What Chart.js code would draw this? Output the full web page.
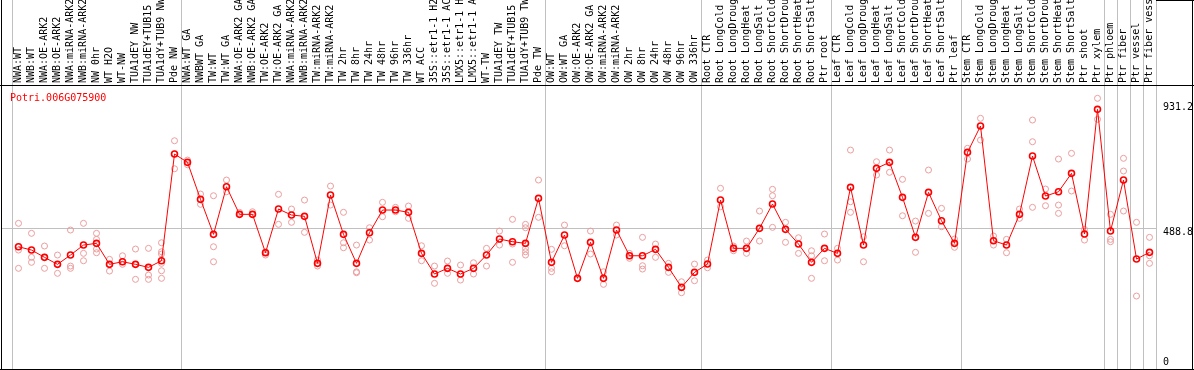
<!DOCTYPE html>
<html>
<head>
<meta charset="utf-8">
<script src="https://cdn.jsdelivr.net/npm/chart.js@4.4.1/dist/chart.umd.min.js"></script>
<style>
  html, body { margin: 0; padding: 0; background: #fff; }
  #wrap { width: 1194px; height: 370px; }
</style>
</head>
<body>
<div id="wrap"><canvas id="chart" width="1194" height="370"></canvas></div>
<script>
const geneId = "Potri.006G075900"

const sampleLabels = [
    "NWA:WT", "NWB:WT", "NWA:OE-ARK2", "NWB:OE-ARK2", "NWA:miRNA-ARK2", "NWB:miRNA-ARK2",
    "NW 0hr", "WT H2O", "WT-NW", "TUA1dEY NW", "TUA1dEY+TUB15", "TUA1dY+TUB9 NW", "Pde NW",
    "NWA:WT GA", "NWBWT GA", "TW:WT", "TW:WT GA", "NWA:OE-ARK2 GA", "NWB:OE-ARK2 GA",
    "TW:OE-ARK2", "TW:OE-ARK2 GA", "NWA:miRNA-ARK2", "NWB:miRNA-ARK2", "TW:miRNA-ARK2",
    "TW:miRNA-ARK2", "TW 2hr", "TW 8hr", "TW 24hr", "TW 48hr", "TW 96hr", "TW 336hr",
    "WT ACC", "35S::etr1-1 H2O", "35S::etr1-1 ACC", "LMX5::etr1-1 H2O", "LMX5::etr1-1 ACC",
    "WT-TW", "TUA1dEY TW", "TUA1dEY+TUB15", "TUA1dY+TUB9 TW", "Pde TW",
    "OW:WT", "OW:WT GA", "OW:OE-ARK2", "OW:OE-ARK2 GA", "OW:miRNA-ARK2", "OW:miRNA-ARK2",
    "OW 2hr", "OW 8hr", "OW 24hr", "OW 48hr", "OW 96hr", "OW 336hr",
    "Root CTR", "Root LongCold", "Root LongDrought", "Root LongHeat", "Root LongSalt",
    "Root ShortCold", "Root ShortDrought", "Root ShortHeat", "Root ShortSalt", "Ptr root",
    "Leaf CTR", "Leaf LongCold", "Leaf LongDrought", "Leaf LongHeat", "Leaf LongSalt",
    "Leaf ShortCold", "Leaf ShortDrought", "Leaf ShortHeat", "Leaf ShortSalt", "Ptr leaf",
    "Stem CTR", "Stem LongCold", "Stem LongDrought", "Stem LongHeat", "Stem LongSalt",
    "Stem ShortCold", "Stem ShortDrought", "Stem ShortHeat", "Stem ShortSalt", "Ptr shoot",
    "Ptr xylem", "Ptr phloem", "Ptr fiber", "Ptr vessel", "Ptr fiber vessel",
]

// first sample of each group (a grey separator is drawn before it)
const groupStarts = [0, 13, 41, 53, 63, 73, 84, 85, 86, 87]

const meanValues = [
    422.6, 410.9, 385.1, 360.3, 393.2, 428.6, 434.7, 360.3, 369.5, 360.3, 349.6, 373.0, 751.0,
    721.6, 590.5, 466.5, 635.2, 537.4, 537.4, 401.4, 556.2, 534.9, 530.3, 363.8, 605.8, 466.5,
    363.8, 472.2, 552.6, 552.6, 544.5, 399.2, 325.9, 346.1, 325.9, 346.1, 393.2, 449.9, 440.3,
    434.7, 594.1,
    367.4, 464.1, 310.7, 438.2, 310.7, 481.8, 390.7, 390.7, 413.4, 349.6, 278.8, 331.9,
    361.3, 588.0, 416.9, 416.9, 487.8, 573.9, 484.2, 432.2, 367.4, 416.9,
    399.2, 633.0, 428.6, 700.3, 721.6, 597.6, 455.9, 615.3, 514.7, 434.7,
    757.0, 850.2, 443.9, 428.6, 537.4, 743.9, 602.2, 617.4, 682.6, 467.6, 909.3,
    478.2, 658.9, 379.0, 402.8,
]

const replicateValues = [
    [505.5, 410.9, 346.1], [470.1, 385.1, 367.4], [425.1, 346.1, 385.1], [393.2, 328.4, 360.3],
    [481.8, 354.2, 346.1], [505.5, 399.2, 373.0], [470.1, 448.8, 414.5, 401.4],
    [378.0, 336.5, 360.3], [390.7, 360.3, 369.5], [414.5, 307.1, 360.3], [416.9, 322.4, 307.1],
    [436.8, 404.9, 396.8, 363.8, 337.6, 310.7], [798.1, 698.9, 751.0],
    [729.7, 713.0], [609.3, 572.8], [603.3, 422.6, 369.5], [658.9, 617.4], [544.5, 537.4],
    [546.6, 537.4], [404.9, 393.2], [608.3, 501.9], [556.2, 509.1], [588.0, 473.6],
    [375.5, 354.2], [637.6, 570.3], [544.5, 436.8, 419.1], [428.6, 333.9, 330.5],
    [489.9, 446.3], [579.9, 528.9], [562.2, 546.6], [566.8, 523.2], [426.1, 373.0],
    [354.2, 293.0], [372.0, 328.4], [357.8, 304.6], [365.9, 325.9], [416.9, 354.2],
    [478.2, 428.6], [519.7, 367.4, 432.2], [501.9, 489.9, 416.9, 404.9, 393.2], [658.9, 526.8],
    [413.4, 346.1, 334.0], [499.5, 426.1], [310.7], [478.2, 396.8], [334.0, 289.4],
    [499.5, 464.1], [399.2, 381.5], [455.9, 355.4, 343.6], [432.2, 385.1], [363.8, 331.9],
    [298.6, 259.7], [361.3, 302.2],
    [375.5, 348.2], [629.5, 564.3], [425.1, 408.4], [442.8, 399.2], [549.1, 442.8],
    [626.0, 603.3, 491.3], [509.1, 438.2], [454.5, 399.2], [408.4, 310.7, 390.7], [467.6, 373.0],
    [416.9, 375.5], [765.1, 582.0, 544.5], [458.0, 369.5], [723.7, 676.6], [765.1, 686.2],
    [661.4, 532.4], [513.6, 402.8], [694.3, 540.9], [558.6, 493.5], [449.9, 420.5],
    [771.2, 733.3], [877.5, 800.6], [460.5, 428.6], [448.8, 401.4], [556.2, 523.2],
    [871.4, 794.6, 562.2], [627.0, 567.9], [733.3, 570.3, 540.9], [753.5, 619.9], [484.2, 446.3],
    [948.3, 873.9],
    [537.4, 448.8, 440.3], [735.8, 690.8, 549.1], [509.1, 248.0], [455.9, 390.7, 363.8],
]

const yTickValues = [0, 488.8, 931.2]
const refLine = 488.8

const FONT = "DejaVu Sans Mono"
const GREY = "#c0c0c0"

// one dataset per replicate slot, null where a sample has fewer replicates
const maxReps = Math.max(...replicateValues.map((r) => r.length))
const replicateSets = []
for (let k = 0; k < maxReps; k++) {
    replicateSets.push({
        type: "line",
        data: replicateValues.map((r) => (r[k] === undefined ? null : r[k])),
        showLine: false,
        pointRadius: 3,
        pointBorderWidth: 1,
        pointBorderColor: "#eb9c9c",
        pointBackgroundColor: "transparent",
        order: 1,
    })
}

const framePlugin = {
    id: "frame",
    afterDraw(chart) {
        const ctx = chart.ctx
        const y = chart.scales.y
        ctx.save()
        ctx.fillStyle = GREY
        ctx.fillRect(2, Math.round(y.getPixelForValue(refLine)), 10, 1)
        ctx.fillStyle = "#000"
        ctx.fillRect(1, 0, 1, 370)
        ctx.fillRect(1192, 0, 1, 370)
        ctx.fillRect(0, 85, 1194, 1)
        ctx.fillRect(0, 369, 1194, 1)
        ctx.fillRect(1156, 0, 38, 1)
        ctx.fillStyle = "#ff0000"
        ctx.font = `10px "${FONT}"`
        ctx.textBaseline = "alphabetic"
        ctx.textAlign = "left"
        ctx.fillText(geneId, 10, 101)
        ctx.restore()
    },
}

new Chart(document.getElementById("chart"), {
    type: "line",
    data: {
        labels: sampleLabels,
        datasets: [
            {
                data: meanValues,
                borderColor: "#ff0000",
                borderWidth: 1,
                tension: 0,
                pointRadius: 3,
                pointBorderWidth: 1.6,
                pointBorderColor: "#ff0000",
                pointBackgroundColor: "transparent",
                order: 0,
            },
            ...replicateSets,
        ],
    },
    plugins: [framePlugin],
    options: {
        responsive: false,
        animation: false,
        devicePixelRatio: 1,
        layout: { autoPadding: false, padding: { left: 12, right: 0, top: 0, bottom: 0 } },
        plugins: {
            legend: { display: false },
            tooltip: { enabled: false },
        },
        scales: {
            x: {
                type: "category",
                position: "top",
                offset: true,
                grid: {
                    offset: true,
                    drawTicks: true,
                    tickLength: 86,
                    color: (c) => (c.index === undefined || groupStarts.includes(c.index) ? GREY : "transparent"),
                },
                border: { display: false },
                ticks: {
                    autoSkip: false,
                    minRotation: 90,
                    maxRotation: 90,
                    padding: -83,
                    labelOffset: 10,
                    color: "#000",
                    font: { family: FONT, size: 10, lineHeight: 1 },
                },
                afterFit: (scale) => {
                    scale.height = 86
                    scale.paddingLeft = 0
                    scale.paddingRight = 0
                },
            },
            y: {
                position: "right",
                min: -14,
                max: 992,
                grid: {
                    drawTicks: false,
                    color: (c) => (c.tick && c.tick.value === refLine ? GREY : "transparent"),
                },
                border: { display: false },
                afterBuildTicks: (scale) => {
                    scale.ticks = yTickValues.map((v) => ({ value: v }))
                },
                ticks: {
                    padding: 7,
                    color: "#000",
                    font: { family: FONT, size: 10, lineHeight: "8px" },
                    callback: (v) => (v === 0 ? ["0", ""] : ["", String(v)]),
                },
                afterFit: (scale) => {
                    scale.width = 38
                    scale.paddingTop = 0
                    scale.paddingBottom = 0
                },
            },
        },
    },
})
</script>
</body>
</html>
